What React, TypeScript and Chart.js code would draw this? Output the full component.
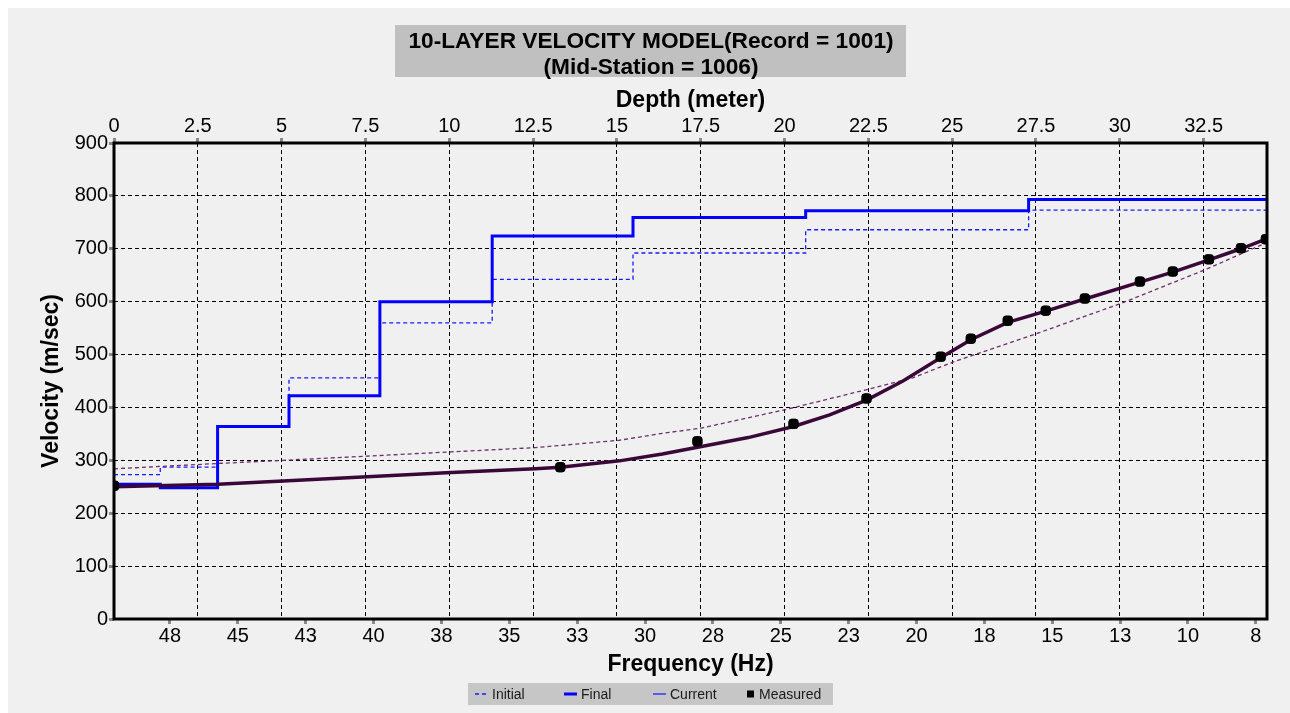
import React, { useEffect, useRef } from "react";
import { Chart, registerables } from "chart.js";

Chart.register(...registerables);

const FONT = "'Liberation Sans', Arial, Helvetica, sans-serif";

// Axis ranges
const depthMax = 34.39;
const freqMin = 7.09;
const freqMax = 49.56;

// Layer model: top depth of each layer (m) and shear-wave velocity (m/sec)
const layerTops = [0, 1.38, 3.09, 5.22, 7.93, 11.28, 15.48, 20.63, 27.28];
const initialVelocity = [273, 287, 364, 456, 560, 642, 692, 736, 773];
const finalVelocity = [255, 248, 364, 422, 600, 724, 759, 772, 793];
const currentVelocity = [255, 248, 364, 422, 600, 724, 759, 772, 793];

// Dispersion curve computed from the initial model
const initialCurveFreq = [49.56, 45.73, 43.33, 40.23, 37.14, 34.04, 30.94, 29.36, 27.92, 24.82, 21.73, 20.14, 18.59, 15.5, 12.4, 9.34, 7.09];
const initialCurveVel = [284, 294, 300, 308, 316, 324, 338, 351, 361, 396, 435, 456, 487, 541, 598, 661, 712];

// Dispersion curve computed from the final model
const finalCurveFreq = [49.56, 45.73, 43.33, 40.23, 37.14, 34.04, 33.12, 30.94, 29.36, 27.92, 26.2, 24.53, 23.2, 21.84, 20.5, 19.11, 18.0, 16.64, 15.24, 13.8, 11.77, 10.56, 9.23, 8.05, 7.09];
const finalCurveVel = [250, 255, 261, 269, 277, 284, 287, 299, 312, 326, 343, 364, 386, 414, 450, 494, 528, 561, 582, 605, 637, 656, 679, 700, 719];

// Measured phase velocities
const measuredFreq = [49.56, 33.12, 28.07, 24.53, 21.84, 19.11, 18.0, 16.64, 15.24, 13.8, 11.77, 10.56, 9.23, 8.05, 7.13];
const measuredVel = [252, 287, 336, 369, 417, 496, 530, 564, 583, 606, 638, 657, 680, 701, 718];

// Tick values and labels
const depthTicks = [0, 2.5, 5, 7.5, 10, 12.5, 15, 17.5, 20, 22.5, 25, 27.5, 30, 32.5];
const freqTicks = [47.5, 45, 42.5, 40, 37.5, 35, 32.5, 30, 27.5, 25, 22.5, 20, 17.5, 15, 12.5, 10, 7.5];
const freqTickLabels = ["48", "45", "43", "40", "38", "35", "33", "30", "28", "25", "23", "20", "18", "15", "13", "10", "8"];
const velocityTicks = [0, 100, 200, 300, 400, 500, 600, 700, 800, 900];

const titleLines = ["10-LAYER VELOCITY MODEL(Record = 1001)", "(Mid-Station = 1006)"];
const legendLabels = ["Initial", "Final", "Current", "Measured"];

const stepPoints = (vals: number[]) => [
  ...layerTops.map((d, i) => ({ x: d, y: vals[i] })),
  { x: depthMax, y: vals[vals.length - 1] },
];
const curvePoints = (fs: number[], vs: number[]) => fs.map((f, i) => ({ x: f, y: vs[i] }));

const decorations = {
  id: "decorations",
  beforeDraw(chart: any) {
    const ctx = chart.ctx as CanvasRenderingContext2D;
    ctx.save();
    ctx.fillStyle = "#f0f0f0";
    ctx.fillRect(0, 0, chart.width, chart.height);

    // Title panel
    ctx.fillStyle = "#c0c0c0";
    ctx.fillRect(387, 17, 511, 52);
    ctx.fillStyle = "#000";
    ctx.font = `bold 22.7px ${FONT}`;
    ctx.textAlign = "center";
    ctx.textBaseline = "alphabetic";
    titleLines.forEach((t, i) => ctx.fillText(t, 643, 39.5 + i * 26));

    // Legend panel
    ctx.fillStyle = "#c6c6c6";
    ctx.fillRect(460, 675, 365, 22);
    ctx.font = `14px ${FONT}`;
    ctx.textAlign = "left";
    const cy = 686;
    legendLabels.forEach((label, i) => {
      const ds = chart.data.datasets.find((d: any) => d.label === label);
      if (!ds) return;
      const tx = 484 + i * 89;
      if (ds.showLine === false) {
        ctx.fillStyle = "#000";
        ctx.fillRect(tx - 12, cy - 3.5, 7, 7);
      } else {
        ctx.strokeStyle = ds.borderColor;
        ctx.lineWidth = ds.borderWidth;
        ctx.setLineDash(ds.borderDash || []);
        ctx.beginPath();
        ctx.moveTo(tx - 17, cy);
        ctx.lineTo(tx - 4, cy);
        ctx.stroke();
        ctx.setLineDash([]);
      }
      ctx.fillStyle = "#1a1a1a";
      ctx.fillText(label, tx, cy + 5);
    });
    ctx.restore();
  },
  afterDatasetsDraw(chart: any) {
    const { ctx, chartArea } = chart;
    ctx.save();
    ctx.strokeStyle = "#000";
    ctx.lineWidth = 3;
    ctx.strokeRect(chartArea.left, chartArea.top, chartArea.right - chartArea.left, chartArea.bottom - chartArea.top);
    ctx.restore();
  },
};

export default function App() {
  const canvasRef = useRef<HTMLCanvasElement | null>(null);

  useEffect(() => {
    if (!canvasRef.current) return;
    Chart.defaults.font.family = FONT;
    const tickFont = { size: 20, lineHeight: 1 };
    const titleFont = { size: 23, weight: "bold" as const, lineHeight: 1 };
    const gridBase = { color: "#000", lineWidth: 1, tickColor: "#8a8a8a", tickWidth: 3, tickLength: 5, tickBorderDash: [] };

    const chart = new Chart(canvasRef.current, {
      type: "line",
      data: {
        datasets: [
          {
            label: "Measured",
            data: curvePoints(measuredFreq, measuredVel),
            xAxisID: "freq",
            yAxisID: "y",
            showLine: false,
            pointStyle: "rectRounded",
            pointRadius: 5.5,
            pointBackgroundColor: "#000",
            pointBorderColor: "#000",
            borderColor: "#000",
            order: 0,
          },
          {
            label: "Final curve",
            data: curvePoints(finalCurveFreq, finalCurveVel),
            xAxisID: "freq",
            yAxisID: "y",
            borderColor: "#3a0838",
            borderWidth: 3.5,
            pointRadius: 0,
            tension: 0,
            order: 1,
          },
          {
            label: "Initial curve",
            data: curvePoints(initialCurveFreq, initialCurveVel),
            xAxisID: "freq",
            yAxisID: "y",
            borderColor: "#6b2e6b",
            borderWidth: 1.3,
            borderDash: [4, 3],
            pointRadius: 0,
            tension: 0,
            order: 2,
          },
          {
            label: "Final",
            data: stepPoints(finalVelocity),
            xAxisID: "depth",
            yAxisID: "y",
            stepped: "before",
            borderColor: "#0000ff",
            borderWidth: 3,
            pointRadius: 0,
            order: 3,
          },
          {
            label: "Current",
            data: stepPoints(currentVelocity),
            xAxisID: "depth",
            yAxisID: "y",
            stepped: "before",
            borderColor: "#2020ff",
            borderWidth: 1.3,
            pointRadius: 0,
            order: 4,
          },
          {
            label: "Initial",
            data: stepPoints(initialVelocity),
            xAxisID: "depth",
            yAxisID: "y",
            stepped: "before",
            borderColor: "#1a1aff",
            borderWidth: 1.3,
            borderDash: [4, 3],
            pointRadius: 0,
            order: 5,
          },
        ],
      },
      options: {
        responsive: false,
        animation: false,
        devicePixelRatio: 1,
        layout: { padding: { top: 75, right: 23, bottom: 35, left: 0 } },
        plugins: { legend: { display: false }, title: { display: false }, tooltip: { enabled: false } },
        scales: {
          depth: {
            type: "linear",
            position: "top",
            min: 0,
            max: depthMax,
            afterBuildTicks: (s: any) => {
              s.ticks = depthTicks.map((value) => ({ value }));
            },
            afterFit: (s: any) => {
              s.height = 60;
            },
            ticks: { font: tickFont, color: "#000", padding: 2, autoSkip: false, maxRotation: 0, callback: (v: any) => String(v) },
            grid: { ...gridBase },
            border: { display: false, dash: [4, 3] },
            title: { display: true, text: "Depth (meter)", font: titleFont, color: "#000", padding: { top: 6.5, bottom: 0 } },
          },
          freq: {
            type: "linear",
            position: "bottom",
            reverse: true,
            min: freqMin,
            max: freqMax,
            afterBuildTicks: (s: any) => {
              s.ticks = freqTicks.map((value) => ({ value }));
            },
            afterFit: (s: any) => {
              s.height = 59;
            },
            ticks: { font: tickFont, color: "#000", padding: 2, autoSkip: false, maxRotation: 0, callback: (_v: any, i: number) => freqTickLabels[i] },
            grid: { ...gridBase, drawOnChartArea: false },
            border: { display: false },
            title: { display: true, text: "Frequency (Hz)", font: titleFont, color: "#000", padding: { top: 0, bottom: 2 } },
          },
          y: {
            type: "linear",
            position: "left",
            min: 0,
            max: 900,
            afterBuildTicks: (s: any) => {
              s.ticks = velocityTicks.map((value) => ({ value }));
            },
            afterFit: (s: any) => {
              s.width = 106;
            },
            ticks: { font: tickFont, color: "#000", padding: 1 },
            grid: { ...gridBase },
            border: { display: false, dash: [4, 3] },
            title: { display: true, text: "Velocity (m/sec)", font: titleFont, color: "#000", padding: { top: 32, bottom: 0 } },
          },
        },
      },
      plugins: [decorations],
    } as any);

    return () => chart.destroy();
  }, []);

  return (
    <div style={{ position: "absolute", left: 8, top: 8, width: 1282, height: 705, background: "#f0f0f0" }}>
      <canvas ref={canvasRef} width={1282} height={705} style={{ display: "block" }} />
    </div>
  );
}
